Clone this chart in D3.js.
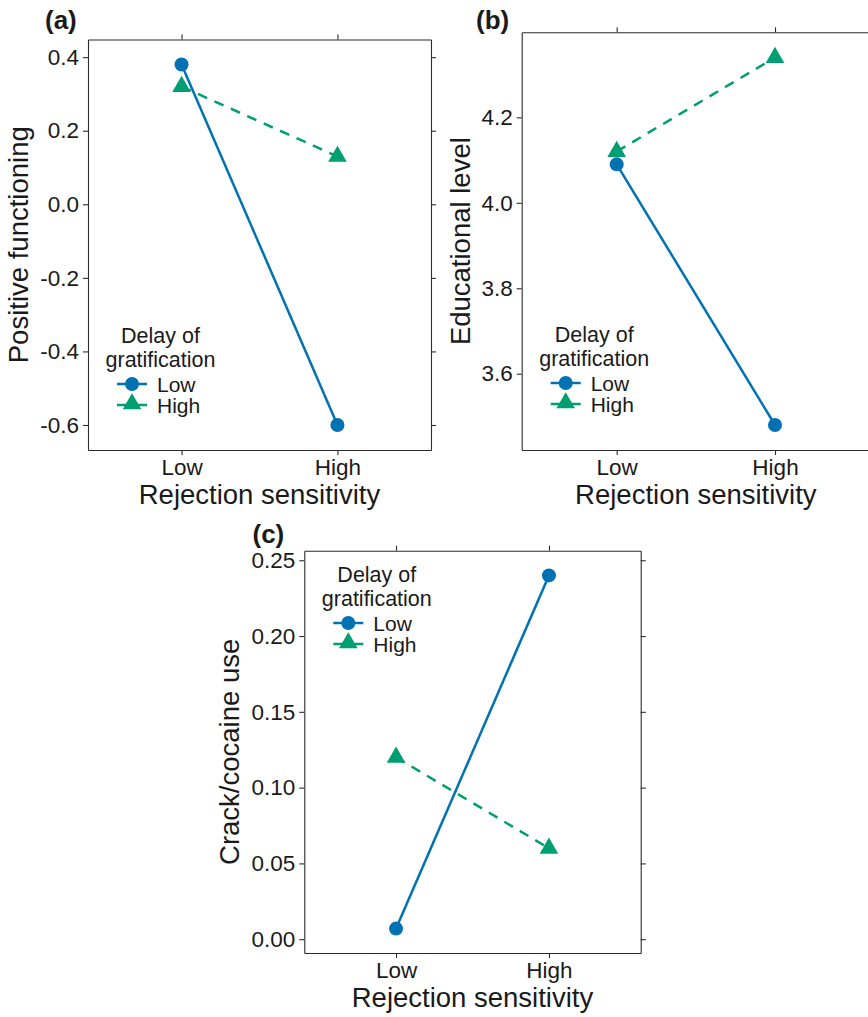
<!DOCTYPE html>
<html>
<head>
<meta charset="utf-8">
<script src="https://cdn.jsdelivr.net/npm/d3@7"></script>
<style>
  html, body { margin: 0; padding: 0; background: #fff; }
  svg { display: block; font-family: "Liberation Sans", Arial, Helvetica, sans-serif; }
</style>
</head>
<body>
<svg id="chart" width="868" height="1017"></svg>
<script>
// ---- data ----
const categories = ["Low", "High"];            // Rejection sensitivity
const groups = ["Low", "High"];                // Delay of gratification
const xTitle = "Rejection sensitivity";
const legendTitle = ["Delay of", "gratification"];

const positiveLowDoG  = [0.38, -0.60];
const positiveHighDoG = [0.32, 0.13];
const positiveTicks = [-0.6, -0.4, -0.2, 0.0, 0.2, 0.4];

const eduLowDoG  = [4.09, 3.48];
const eduHighDoG = [4.12, 4.34];
const eduTicks = [3.6, 3.8, 4.0, 4.2];

const crackLowDoG  = [0.007, 0.24];
const crackHighDoG = [0.12, 0.06];
const crackTicks = [0.00, 0.05, 0.10, 0.15, 0.20, 0.25];

// ---- styles ----
const BLUE = "#0072B2", GREEN = "#009E73", INK = "#1a1a1a", AX = "#2b2b2b";

const panels = [
  { tag: "(a)", yTitle: "Positive functioning", low: positiveLowDoG, high: positiveHighDoG,
    ticks: positiveTicks, fmt: d3.format(".1f"), domain: [-0.668, 0.448],
    left: 88, right: 431, top: 39.5, bottom: 450, tagX: 45, tagY: 28.5,
    yTitleX: 28, legY: 343 },
  { tag: "(b)", yTitle: "Educational level", low: eduLowDoG, high: eduHighDoG,
    ticks: eduTicks, fmt: d3.format(".1f"), domain: [3.4215, 4.399],
    left: 521.7, right: 870, top: 32.3, bottom: 450, tagX: 476, tagY: 28.5,
    yTitleX: 469.5, legY: 342 },
  { tag: "(c)", yTitle: "Crack/cocaine use", low: crackLowDoG, high: crackHighDoG,
    ticks: crackTicks, fmt: d3.format(".2f"), domain: [-0.0091, 0.2563],
    left: 304.3, right: 640.7, top: 550.7, bottom: 953, tagX: 252.5, tagY: 542.5,
    yTitleX: 238.5, legY: 582 }
];

const svg = d3.select("#chart");
const triangle = d3.symbol().type(d3.symbolTriangle).size(150);

function hyphen(s) { return s.replace("\u2212", "-"); }

panels.forEach(p => {
  const x = d3.scalePoint().domain(categories).range([p.left, p.right]).padding(0.6);
  const y = d3.scaleLinear().domain(p.domain).range([p.bottom, p.top]);
  const g = svg.append("g");

  // axes
  const tickSize = 5;
  const styleAxis = sel => {
    sel.select(".domain").attr("stroke", AX).attr("stroke-width", 1.1);
    sel.selectAll(".tick line").attr("stroke", AX).attr("stroke-width", 1.1);
  };
  g.append("g").attr("transform", `translate(${p.left},0)`)
    .call(d3.axisLeft(y).tickValues(p.ticks).tickSize(tickSize).tickPadding(4)
      .tickSizeOuter(0).tickFormat(d => hyphen(p.fmt(d))))
    .call(styleAxis)
    .call(s => s.selectAll("text").attr("fill", INK).attr("font-size", 22.5)
      .attr("font-family", "Liberation Sans, Arial, sans-serif"));
  g.append("g").attr("transform", `translate(${p.right},0)`)
    .call(d3.axisRight(y).tickValues(p.ticks).tickSize(tickSize).tickSizeOuter(0).tickFormat(""))
    .call(styleAxis);
  g.append("g").attr("transform", `translate(0,${p.bottom})`)
    .call(d3.axisBottom(x).tickSize(tickSize).tickPadding(4).tickSizeOuter(0))
    .call(styleAxis)
    .call(s => s.selectAll("text").attr("fill", INK).attr("font-size", 22.5)
      .attr("font-family", "Liberation Sans, Arial, sans-serif").attr("dy", "0.71em"));
  g.append("g").attr("transform", `translate(0,${p.top})`)
    .call(d3.axisTop(x).tickSize(tickSize).tickSizeOuter(0).tickFormat(""))
    .call(styleAxis);

  // titles
  g.append("text").attr("x", (p.left + p.right) / 2).attr("y", p.bottom + 53.5)
    .attr("text-anchor", "middle").attr("font-size", 27.5).attr("fill", INK).text(xTitle);
  g.append("text").attr("transform", `translate(${p.yTitleX},${(p.top + p.bottom) / 2}) rotate(-90)`)
    .attr("text-anchor", "middle").attr("font-size", 27.5).attr("fill", INK).text(p.yTitle);
  g.append("text").attr("x", p.tagX).attr("y", p.tagY).attr("font-size", 26)
    .attr("font-weight", "bold").attr("fill", INK).text(p.tag);

  // lines
  const line = d3.line().x((d, i) => x(categories[i])).y(d => y(d));
  g.append("path").datum(p.high).attr("d", line).attr("fill", "none")
    .attr("stroke", GREEN).attr("stroke-width", 2.5).attr("stroke-dasharray", "10,8");
  g.append("path").datum(p.low).attr("d", line).attr("fill", "none")
    .attr("stroke", BLUE).attr("stroke-width", 2.5);

  // points
  g.selectAll(".tri").data(p.high).join("path")
    .attr("transform", (d, i) => `translate(${x(categories[i])},${y(d)})`)
    .attr("d", triangle).attr("fill", GREEN);
  g.selectAll(".dot").data(p.low).join("circle")
    .attr("cx", (d, i) => x(categories[i])).attr("cy", d => y(d)).attr("r", 7).attr("fill", BLUE);

  // legend
  const lx = p.left + 44, tx = p.left + 72.5, ly = p.legY;
  const leg = g.append("g");
  legendTitle.forEach((t, i) => {
    leg.append("text").attr("x", tx).attr("y", ly + i * 24).attr("text-anchor", "middle")
      .attr("font-size", 21.5).attr("fill", INK).text(t);
  });
  groups.forEach((gr, i) => {
    const ry = ly + 41 + i * 21;
    leg.append("line").attr("x1", lx - 15).attr("x2", lx + 15).attr("y1", ry).attr("y2", ry)
      .attr("stroke", i === 0 ? BLUE : GREEN).attr("stroke-width", 2.5);
    if (i === 0) {
      leg.append("circle").attr("cx", lx).attr("cy", ry).attr("r", 7).attr("fill", BLUE);
    } else {
      leg.append("path").attr("transform", `translate(${lx},${ry - 1})`).attr("d", triangle).attr("fill", GREEN);
    }
    leg.append("text").attr("x", lx + 25).attr("y", ry + 7.5).attr("font-size", 21)
      .attr("fill", INK).text(gr);
  });
});
</script>
</body>
</html>
